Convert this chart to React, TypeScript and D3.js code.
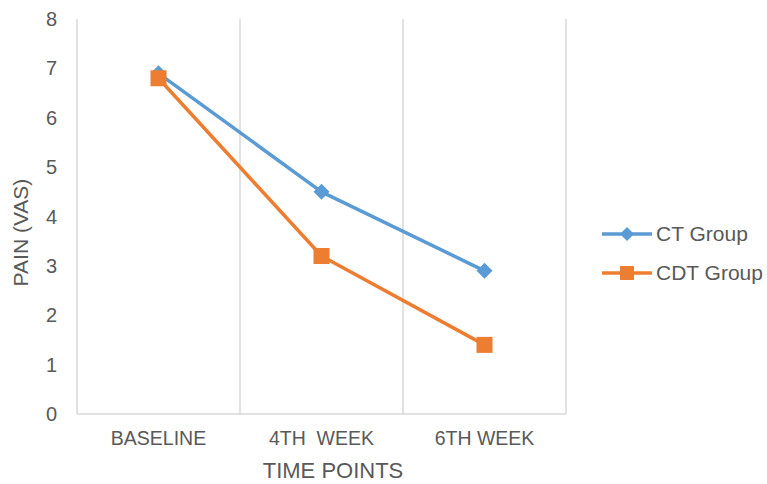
import React from "react";
import * as d3 from "d3";

const categories = ["BASELINE", "4TH  WEEK", "6TH WEEK"];
const ctGroup = [6.9, 4.5, 2.9];
const cdtGroup = [6.8, 3.2, 1.4];
const yTicks = [0, 1, 2, 3, 4, 5, 6, 7, 8];

const W = 767;
const H = 484;
const plot = { left: 77, right: 566, top: 19, bottom: 414 };
const FONT = "'Liberation Sans', Arial, Helvetica, sans-serif";
const TEXT = "#595959";
const GRID = "#d9d9d9";
const BLUE = "#5B9BD5";
const ORANGE = "#ED7D31";

export default function App() {
  const x = d3.scaleBand<string>().domain(categories).range([plot.left, plot.right]);
  const y = d3.scaleLinear().domain([0, 8]).range([plot.bottom, plot.top]);
  const cx = (c: string) => (x(c) ?? 0) + x.bandwidth() / 2;
  const line = d3
    .line<number>()
    .x((_, i) => cx(categories[i]))
    .y((d) => y(d));

  const diamond = (px: number, py: number, r: number) =>
    `M${px},${py - r}L${px + r},${py}L${px},${py + r}L${px - r},${py}Z`;

  const boundaries = [...categories.map((c) => x(c) ?? 0), plot.right];

  return (
    <svg width={W} height={H} style={{ position: "absolute", left: 0, top: 0 }}>
      <rect width={W} height={H} fill="#fff" />
      {boundaries.map((bx, i) => (
        <line key={i} x1={bx} x2={bx} y1={plot.top} y2={plot.bottom} stroke={GRID} strokeWidth={1.5} />
      ))}
      <line x1={plot.left} x2={plot.right} y1={plot.bottom} y2={plot.bottom} stroke={GRID} strokeWidth={1.5} />
      {yTicks.map((t) => (
        <text key={t} x={57} y={y(t)} dy="0.35em" textAnchor="end" fontFamily={FONT} fontSize={20} fill={TEXT}>
          {t}
        </text>
      ))}
      {categories.map((c) => (
        <text key={c} x={cx(c)} y={445} textAnchor="middle" fontFamily={FONT} fontSize={19.5} fill={TEXT} style={{ whiteSpace: "pre" }}>
          {c}
        </text>
      ))}
      <text x={333} y={478} textAnchor="middle" fontFamily={FONT} fontSize={22} fill={TEXT}>
        TIME POINTS
      </text>
      <text
        transform={`translate(28, ${(plot.top + plot.bottom) / 2 + 16}) rotate(-90)`}
        textAnchor="middle"
        fontFamily={FONT}
        fontSize={21}
        fill={TEXT}
      >
        PAIN (VAS)
      </text>

      <path d={line(ctGroup) ?? ""} fill="none" stroke={BLUE} strokeWidth={3.5} strokeLinejoin="round" />
      <path d={line(cdtGroup) ?? ""} fill="none" stroke={ORANGE} strokeWidth={3.5} strokeLinejoin="round" />
      {ctGroup.map((v, i) => (
        <path key={i} d={diamond(cx(categories[i]), y(v), 8)} fill={BLUE} />
      ))}
      {cdtGroup.map((v, i) => (
        <rect key={i} x={cx(categories[i]) - 8} y={y(v) - 8} width={16} height={16} fill={ORANGE} />
      ))}

      {/* legend */}
      <g>
        <line x1={602} x2={652} y1={234} y2={234} stroke={BLUE} strokeWidth={3.5} />
        <path d={diamond(627, 234, 7)} fill={BLUE} />
        <text x={656} y={234} dy="0.35em" fontFamily={FONT} fontSize={21} fill={TEXT}>
          CT Group
        </text>
        <line x1={602} x2={652} y1={273} y2={273} stroke={ORANGE} strokeWidth={3.5} />
        <rect x={620} y={266} width={14} height={14} fill={ORANGE} />
        <text x={656} y={273} dy="0.35em" fontFamily={FONT} fontSize={21} fill={TEXT}>
          CDT Group
        </text>
      </g>
    </svg>
  );
}
